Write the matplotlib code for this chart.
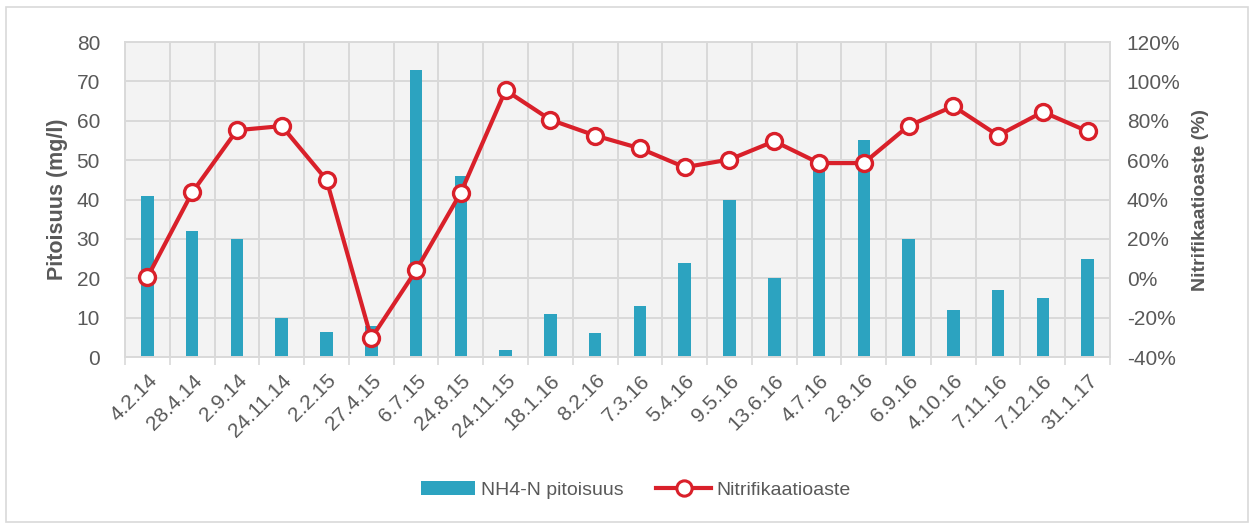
import numpy as np
import matplotlib
matplotlib.use("Agg")
import matplotlib.pyplot as plt
from matplotlib.patches import Rectangle, Patch
from matplotlib.lines import Line2D
from matplotlib.ticker import FuncFormatter

plt.rcParams['font.family'] = ['Liberation Sans', 'DejaVu Sans']

dates = ['4.2.14', '28.4.14', '2.9.14', '24.11.14', '2.2.15', '27.4.15', '6.7.15',
         '24.8.15', '24.11.15', '18.1.16', '8.2.16', '7.3.16', '5.4.16', '9.5.16',
         '13.6.16', '4.7.16', '2.8.16', '6.9.16', '4.10.16', '7.11.16', '7.12.16', '31.1.17']
nh4 = [41, 32, 30, 10, 6.3, 8, 73, 46, 1.8, 10.8, 6.1, 12.9, 24, 40,
       20, 50, 55, 30, 12, 17, 15, 25]
nitrif = [0.5, 43.6, 75.2, 77.3, 50, -30.5, 4, 43.5, 95.5, 80.5, 72.5, 66, 56.4, 60.3,
          69.6, 58.5, 58.5, 77.4, 87.4, 72.5, 84.5, 74.6]

bar_color = '#2CA3C0'
line_color = '#D9202A'
text_color = '#595959'
grid_color = '#D9D9D9'

fig = plt.figure(figsize=(12.54, 5.29), dpi=100)
fig.patches.append(Rectangle((0.005, 0.013), 0.99, 0.974, transform=fig.transFigure,
                             fill=False, edgecolor='#D9D9D9', linewidth=1.2))
ax = fig.add_axes([0.0997, 0.3251, 0.7855, 0.5955])
ax.set_facecolor('#F3F3F3')
x = np.arange(len(dates))

ax.bar(x, nh4, width=0.28, color=bar_color, zorder=2)
ax.set_xlim(-0.5, len(dates) - 0.5)
ax.set_ylim(0, 80)
ax.set_yticks(np.arange(0, 81, 10))
ax.set_xticks(x)
ax.set_xticklabels(dates, rotation=45, ha='right', rotation_mode='anchor')
ax.set_xticks(np.arange(-0.5, len(dates), 1), minor=True)
ax.tick_params(axis='x', which='major', length=0, pad=10, labelsize=15, labelcolor=text_color)
ax.tick_params(axis='x', which='minor', length=6, width=1.2, color=grid_color)
ax.tick_params(axis='y', length=0, pad=18, labelsize=15, labelcolor=text_color)
ax.grid(True, axis='y', color=grid_color, linewidth=1.4)
ax.grid(True, axis='x', which='minor', color=grid_color, linewidth=1.4)
ax.set_axisbelow(True)
for s in ax.spines.values():
    s.set_color(grid_color)
    s.set_linewidth(1.4)
ax.set_ylabel('Pitoisuus (mg/l)', fontsize=15.5, fontweight='bold', color=text_color, labelpad=6)

ax2 = ax.twinx()
ax2.plot(x, nitrif, color=line_color, linewidth=3, marker='o', markersize=11.5,
         markerfacecolor='white', markeredgecolor=line_color, markeredgewidth=2.4, zorder=3)
ax2.set_ylim(-40, 120)
ax2.set_yticks(np.arange(-40, 121, 20))
ax2.yaxis.set_major_formatter(FuncFormatter(lambda v, p: f'{v:.0f}%'))
ax2.tick_params(axis='y', length=0, pad=12, labelsize=15, labelcolor=text_color)
for s in ax2.spines.values():
    s.set_visible(False)
ax2.set_ylabel('Nitrifikaatioaste (%)', fontsize=14, fontweight='bold', color=text_color, labelpad=8)

handles = [Patch(facecolor=bar_color, edgecolor='none'),
           Line2D([0], [0], color=line_color, linewidth=3, marker='o', markersize=11,
                  markerfacecolor='white', markeredgecolor=line_color, markeredgewidth=2.2)]
leg = fig.legend(handles, ['NH4-N pitoisuus', 'Nitrifikaatioaste'], loc='center',
                 bbox_to_anchor=(0.507, 0.074), ncol=2, frameon=False, fontsize=14,
                 handlelength=2.8, handletextpad=0.3, columnspacing=1.7)
for t in leg.get_texts():
    t.set_color(text_color)

fig.savefig('out.png', dpi=100)
